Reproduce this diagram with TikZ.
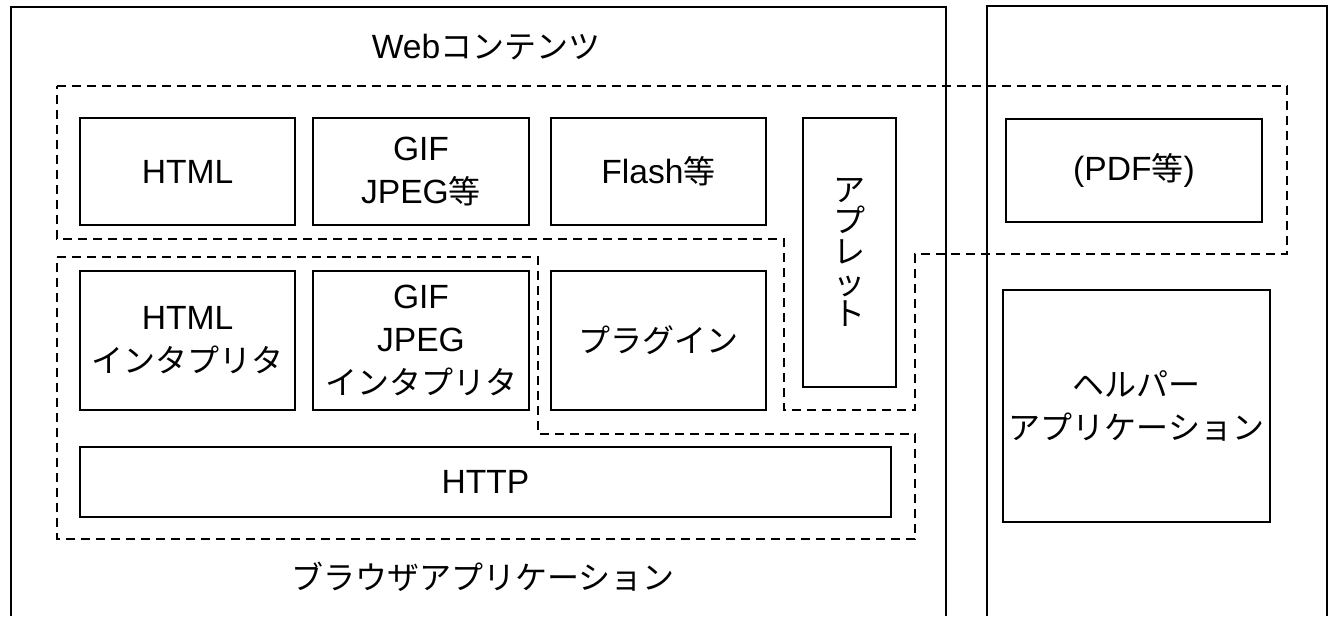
\documentclass[tikz,border=0pt]{standalone}
\usepackage{fontspec}
\setmainfont[Scale=1.05]{Liberation Sans}
\newfontfamily\jpfont{Noto Sans CJK JP}
\newcommand{\jp}[1]{{\jpfont #1}}
\usetikzlibrary{positioning}
\tikzset{
blk/.style={
  draw,
  line width=1.8pt,
  inner sep=0pt,
  align=center,
  font=\fontsize{32}{43}\selectfont
  },
grp/.style={
  draw,
  line width=1.8pt,
  dash pattern=on 9pt off 6pt
  },
frame/.style={
  draw,
  line width=1.8pt
  },
lbl/.style={
  font=\fontsize{32}{43}\selectfont
  }
}

\begin{document}
\begin{tikzpicture}[x=1pt,y=-1pt]
            \useasboundingbox (0,0) rectangle (1332,616);
            % frames
            \draw[frame] (11,616) |- (946,7) -- (946,616);
            \draw[frame] (987,616) |- (1327,6) -- (1327,616);
            \node[lbl] (webc) at (486,47) {Web\jp{コンテンツ}};
            \node[lbl] (brw) at (483,577) {\jp{ブラウザアプリケーション}};
            % dashed groups
            \draw[grp] (57,86) -- (1287,86) -- (1287,254) -- (915,254) -- (915,410)
                -- (784,410) -- (784,239) -- (57,239) -- cycle;
            \draw[grp] (57,257) -- (538,257) -- (538,434) -- (915,434) -- (915,539)
                -- (57,539) -- cycle;
            % contents
            \node[blk,minimum width=215pt,minimum height=107pt] (html) at (187.5,171.5) {HTML};
            \node[blk,minimum width=216pt,minimum height=107pt] (img) at (421,171.5) {GIF\\JPEG\jp{等}};
            \node[blk,minimum width=215pt,minimum height=107pt] (flash) at (658.5,171.5) {Flash\jp{等}};
            \node[blk,minimum width=93pt,minimum height=269pt,font=\fontsize{32}{31}\selectfont] (applet) at (849.5,252.5)
                {\jp{ア}\\\jp{プ}\\\jp{レ}\\\jp{ッ}\\\jp{ト}};
            \node[blk,minimum width=256pt,minimum height=103pt] (pdf) at (1134,170.5) {(PDF\jp{等})};
            % interpreters
            \node[blk,minimum width=215pt,minimum height=139pt] (htmlint) at (187.5,340.5) {HTML\\\jp{インタプリタ}};
            \node[blk,minimum width=216pt,minimum height=139pt] (imgint) at (421,340.5) {GIF\\JPEG\\\jp{インタプリタ}};
            \node[blk,minimum width=215pt,minimum height=139pt] (plugin) at (658.5,340.5) {\jp{プラグイン}};
            \node[blk,minimum width=811pt,minimum height=70pt] (http) at (485.5,482) {HTTP};
            \node[blk,minimum width=267pt,minimum height=232pt] (helper) at (1136.5,406)
                {\jp{ヘルパー}\\\jp{アプリケーション}};
        \end{tikzpicture}
\end{document}
